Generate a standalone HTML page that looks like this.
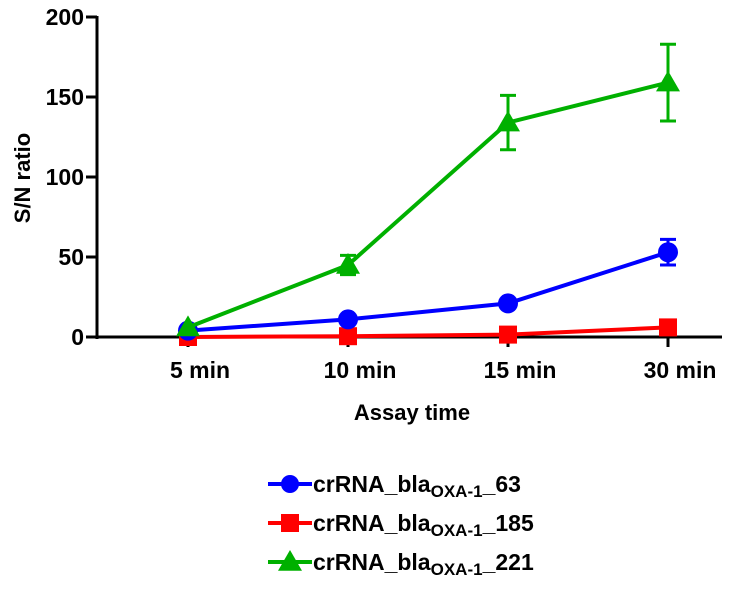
<!DOCTYPE html>
<html><head><meta charset="utf-8"><style>
body{margin:0;background:#fff;}
svg{display:block;font-family:"Liberation Sans",Arial,sans-serif;font-weight:bold;}
</style></head><body>
<svg id="chart" width="750" height="590" viewBox="0 0 750 590" xmlns="http://www.w3.org/2000/svg"></svg>
<script>
const categories = ["5 min","10 min","15 min","30 min"];
const yTicks = [0,50,100,150,200];
const seriesNames = ["63","185","221"];
const blueVals = [4,11,21,53];
const blueErr = [0,0,0,8];
const redVals = [0,0.5,1.5,6];
const redErr = [0,0,0,0];
const greenVals = [6,45,134,159];
const greenErr = [0,6,17,24];

const NS="http://www.w3.org/2000/svg";
const svg=document.getElementById('chart');
const x0=188, dx=160, yBase=337, yTop=17, yMax=200;
const xS=i=>x0+i*dx;
const yS=v=>yBase-(v/yMax)*(yBase-yTop);
function mk(t,a,p){const e=document.createElementNS(NS,t);for(const k in a)e.setAttribute(k,a[k]);(p||svg).appendChild(e);return e;}

let ya=mk('line',{x1:97,y1:yTop-1,x2:97,y2:yBase+2,stroke:'#000','stroke-width':3});


let xa=mk('line',{x1:95.5,y1:yBase,x2:722,y2:yBase,stroke:'#000','stroke-width':3});


yTicks.forEach(v=>{
  const y=yS(v);
  mk('line',{x1:86,y1:y,x2:97,y2:y,stroke:'#000','stroke-width':3});
  const t=mk('text',{x:84,y:y+8,'text-anchor':'end','font-size':23});
  t.textContent=v;
  
  
});
categories.forEach((c,i)=>{
  const x=xS(i);
  mk('line',{x1:x,y1:yBase,x2:x,y2:yBase+10,stroke:'#000','stroke-width':3});
  const t=mk('text',{x:x+12,y:378,'text-anchor':'middle','font-size':23});
  t.textContent=c;
  
  
});
let yt=mk('text',{x:0,y:0,'text-anchor':'middle','font-size':22,transform:'translate(30,178) rotate(-90)'});
yt.textContent='S/N ratio';


let xt=mk('text',{x:412,y:420,'text-anchor':'middle','font-size':22});
xt.textContent='Assay time';



function marker(shape,x,y,col,g,s){
  if(shape==='circle') return mk('circle',{cx:x,cy:y,r:s||10,fill:col},g);
  if(shape==='square'){const h=s||9;return mk('rect',{x:x-h,y:y-h,width:2*h,height:2*h,fill:col},g);}
  const h=s||11;return mk('polygon',{points:`${x},${y-h-1} ${x+h+1},${y+h*0.8} ${x-h-1},${y+h*0.8}`,fill:col},g);
}
function drawSeries(vals,err,col,shape,name){
  const g=mk('g',{});
  
  
  mk('polyline',{points:vals.map((v,i)=>xS(i)+','+yS(v)).join(' '),fill:'none',stroke:col,'stroke-width':4},g);
  vals.forEach((v,i)=>{
    if(err[i]>0){
      const x=xS(i),a=yS(v+err[i]),b=yS(v-err[i]);
      mk('path',{d:`M${x},${a}V${b}M${x-8},${a}H${x+8}M${x-8},${b}H${x+8}`,stroke:col,'stroke-width':3,fill:'none'},g);
    }
    const m=marker(shape,xS(i),yS(v),col,g);
    
    
  });
}
drawSeries(redVals,redErr,'#ff0000','square','185');
drawSeries(blueVals,blueErr,'#0000ff','circle','63');
drawSeries(greenVals,greenErr,'#00b000','triangle','221');

const legCols=['#0000ff','#ff0000','#00b000'];
const legShapes=['circle','square','triangle'];
seriesNames.forEach((n,i)=>{
  const y=484+i*39;
  const g=mk('g',{});
  
  
  mk('line',{x1:268,y1:y,x2:312,y2:y,stroke:legCols[i],'stroke-width':4},g);
  marker(legShapes[i],290,y,legCols[i],g,legShapes[i]==='triangle'?11:9);
  const t=mk('text',{x:313,y:y+8,'font-size':23},g);
  t.innerHTML='crRNA_bla<tspan font-size="17" dy="5">OXA-1</tspan><tspan dy="-5">_'+n+'</tspan>';
});
</script>
</body></html>
